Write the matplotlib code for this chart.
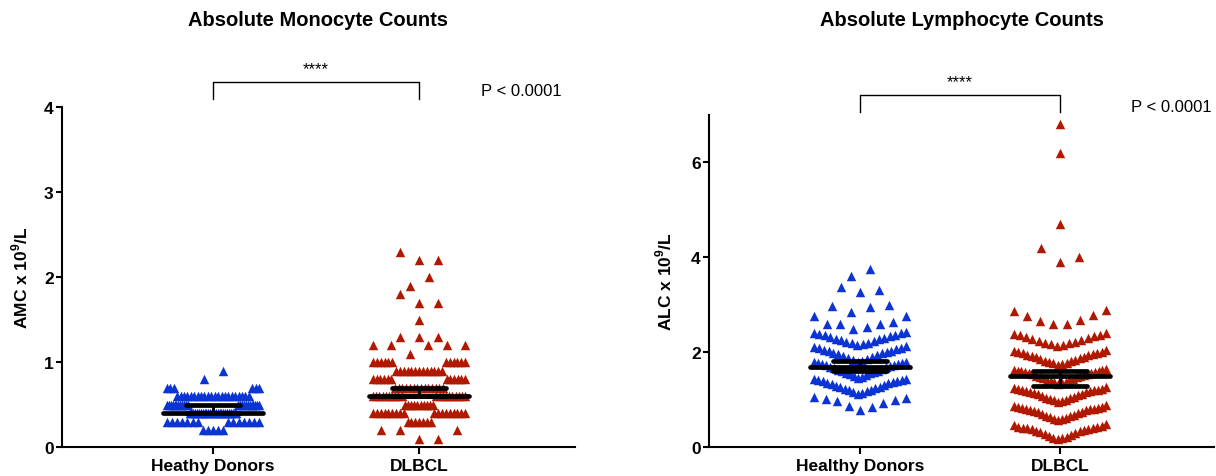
import numpy as np
import matplotlib
matplotlib.use('Agg')
import matplotlib.pyplot as plt

plt.rcParams['font.family'] = ['Liberation Sans', 'DejaVu Sans']
plt.rcParams['mathtext.fontset'] = 'custom'
plt.rcParams['mathtext.rm'] = 'Liberation Sans'
plt.rcParams['mathtext.bf'] = 'Liberation Sans:bold'

# categories
amc_groups = ['Heathy Donors', 'DLBCL']
alc_groups = ['Healthy Donors', 'DLBCL']

# absolute monocyte counts, read as value levels + number of points at each level
amc_hd_levels = [0.2, 0.3, 0.4, 0.5, 0.6, 0.7, 0.8, 0.9]
amc_hd_counts = [5, 14, 26, 24, 22, 6, 1, 1]
amc_dl_levels = [0.1, 0.2, 0.3, 0.4, 0.5, 0.6, 0.7, 0.8, 0.9, 1.0, 1.1, 1.2, 1.3, 1.5, 1.7, 1.8, 1.9, 2.0, 2.2, 2.3]
amc_dl_counts = [2, 3, 7, 18, 10, 20, 14, 12, 13, 12, 1, 5, 3, 1, 2, 1, 1, 1, 2, 1]

# absolute lymphocyte counts
alc_hd = [0.78, 0.84, 0.87, 0.93, 0.96, 0.99, 1.02, 1.04, 1.06,
          1.12, 1.14, 1.15, 1.17, 1.19, 1.21, 1.22, 1.24, 1.26, 1.27, 1.29, 1.31,
          1.32, 1.34, 1.35, 1.37, 1.38, 1.40, 1.41, 1.42, 1.43, 1.44,
          1.46, 1.48, 1.50, 1.51, 1.53, 1.55, 1.56, 1.58, 1.60, 1.61, 1.63, 1.64,
          1.66, 1.68, 1.69, 1.70, 1.72, 1.73, 1.74, 1.75, 1.76, 1.77, 1.78, 1.78,
          1.80, 1.82, 1.84, 1.86, 1.88, 1.90, 1.92, 1.93, 1.95, 1.97,
          1.98, 2.00, 2.02, 2.03, 2.05, 2.06, 2.08, 2.09, 2.10, 2.12,
          2.14, 2.16, 2.18, 2.20, 2.21, 2.23, 2.25, 2.27, 2.28,
          2.30, 2.32, 2.33, 2.35, 2.36, 2.38, 2.39, 2.40, 2.42,
          2.48, 2.53, 2.58, 2.58, 2.59, 2.63, 2.76, 2.76,
          2.84, 2.94, 2.97, 2.99,
          3.27, 3.30, 3.36,
          3.60, 3.75]
alc_dl = [0.16, 0.18, 0.20, 0.22, 0.24, 0.26, 0.28, 0.29, 0.31, 0.33, 0.34,
          0.36, 0.37, 0.38, 0.39, 0.40, 0.41, 0.42, 0.43, 0.44, 0.46, 0.48,
          0.56, 0.58, 0.60, 0.61, 0.63, 0.65, 0.66, 0.68, 0.70, 0.71, 0.73, 0.74,
          0.76, 0.77, 0.78, 0.79, 0.80, 0.81, 0.82, 0.83, 0.84, 0.85, 0.86, 0.88,
          0.94, 0.96, 0.98, 0.99, 1.01, 1.03, 1.04, 1.06, 1.08, 1.09, 1.11, 1.12,
          1.14, 1.15, 1.16, 1.17, 1.18, 1.19, 1.20, 1.21, 1.22, 1.23, 1.24, 1.26,
          1.32, 1.34, 1.36, 1.37, 1.39, 1.41, 1.42, 1.44, 1.45, 1.47, 1.48, 1.49, 1.50,
          1.52, 1.53, 1.54, 1.55, 1.56, 1.57, 1.58, 1.59, 1.60, 1.61, 1.62, 1.63, 1.64,
          1.72, 1.74, 1.76, 1.77, 1.79, 1.81, 1.82, 1.84, 1.86, 1.87, 1.89,
          1.90, 1.92, 1.93, 1.94, 1.96, 1.97, 1.98, 2.00, 2.01, 2.02, 2.04,
          2.12, 2.14, 2.16, 2.18, 2.20, 2.22, 2.24, 2.26,
          2.28, 2.29, 2.31, 2.33, 2.35, 2.36, 2.38, 2.40,
          2.58, 2.60, 2.66, 2.68, 2.76, 2.78, 2.87, 2.89,
          3.90, 4.00, 4.20, 4.70, 6.20, 6.80]

# summary lines (centre line, upper and lower bar)
amc_mid = [0.40, 0.60]
amc_hi = [0.50, 0.70]
amc_lo = [0.40, 0.60]
alc_mid = [1.68, 1.49]
alc_hi = [1.82, 1.59]
alc_lo = [1.61, 1.29]

blue = '#0b34d4'
red = '#b01800'

W, H = 1216, 477
fig = plt.figure(figsize=(W / 100, H / 100), dpi=100)


def swarm(values, center, pxx, pxy, step=19, half=46, bin_px=15.2):
    # graphpad-like scatter: bin by height, lowest values in the middle
    v = np.sort(np.asarray(values, float))
    h = bin_px / pxy
    xs, ys = [], []
    i = 0
    while i < len(v):
        j = i
        while j < len(v) and v[j] <= v[i] + h + 1e-9:
            j += 1
        n = j - i
        s = step if n == 1 else min(step, 2 * half / (n - 1))
        slots = []
        m = 0
        while len(slots) < n:
            if n % 2:
                if m == 0:
                    slots.append(0)
                else:
                    slots += [m, -m]
            else:
                slots += [-(m + 0.5), m + 0.5]
            m += 1
        for k in range(n):
            xs.append(center + slots[k] * s / pxx)
            ys.append(v[i + k])
        i = j
    return xs, ys


def panel(rect, xlim, ylim, yticks, groups, data, mid, hi, lo, ylabel, title, ylab_x,
          br_y, star_y, p_x, p_y):
    ax = fig.add_axes(rect)
    ax.set_xlim(*xlim)
    ax.set_ylim(*ylim)
    pxx = rect[2] * W / (xlim[1] - xlim[0])
    pxy = rect[3] * H / (ylim[1] - ylim[0])
    for i, (vals, c) in enumerate(zip(data, [blue, red])):
        xs, ys = swarm(vals, i, pxx, pxy)
        ax.scatter(xs, ys, marker='^', s=6.8 ** 2, color=c, linewidths=0, zorder=2)
        lw = 3.4
        ax.plot([i - 50 / pxx, i + 50 / pxx], [mid[i], mid[i]], color='k', lw=lw,
                solid_capstyle='round', zorder=3)
        for yy in (hi[i], lo[i]):
            ax.plot([i - 27 / pxx, i + 27 / pxx], [yy, yy], color='k', lw=lw,
                    solid_capstyle='round', zorder=3)
        ax.plot([i, i], [lo[i], hi[i]], color='k', lw=2.2, zorder=3)
    for sp in ['top', 'right']:
        ax.spines[sp].set_visible(False)
    for sp in ['left', 'bottom']:
        ax.spines[sp].set_linewidth(1.5)
    ax.set_xticks([0, 1])
    ax.set_xticklabels(groups, fontsize=12.5, fontweight='bold')
    ax.set_yticks(yticks)
    ax.set_yticklabels([str(t) for t in yticks], fontsize=12.5, fontweight='bold')
    ax.tick_params(axis='both', direction='out', length=4, width=1.5, pad=2)
    ax.tick_params(axis='x', length=5, pad=3)
    ax.set_ylabel(ylabel, fontsize=12.5, fontweight='bold')
    ax.yaxis.set_label_coords(ylab_x, 0.5)
    # significance bracket
    ax.plot([0, 0, 1, 1], br_y, color='k', lw=1.0, clip_on=False)
    ax.text(0.5, star_y, '****', ha='center', va='center', fontsize=12)
    ax.text(p_x, p_y, 'P < 0.0001', ha='left', va='center', fontsize=12)
    x0 = (rect[0] + rect[2] / 2)
    fig.text(x0, 1 - 20 / H, title, ha='center', va='center', fontsize=14.5, fontweight='bold')
    return ax


bottom = (H - 448) / H
amc_data = [np.repeat(amc_hd_levels, amc_hd_counts), np.repeat(amc_dl_levels, amc_dl_counts)]
panel([62 / W, bottom, 513 / W, 340 / H], (-0.733, 1.757), (0, 4), [0, 1, 2, 3, 4],
      amc_groups, amc_data, amc_mid, amc_hi, amc_lo,
      r'AMC x 10$^\mathbf{9}$/L', 'Absolute Monocyte Counts', -0.062,
      [4.1, 4.3, 4.3, 4.1], 4.45, 1.30, 4.2)
panel([709 / W, bottom, 505 / W, 332.5 / H], (-0.755, 1.77), (0, 7), [0, 2, 4, 6],
      alc_groups, [alc_hd, alc_dl], alc_mid, alc_hi, alc_lo,
      r'ALC x 10$^\mathbf{9}$/L', 'Absolute Lymphocyte Counts', -0.069,
      [7.05, 7.41, 7.41, 7.05], 7.70, 1.355, 7.16)

fig.savefig('out.png', dpi=100)
